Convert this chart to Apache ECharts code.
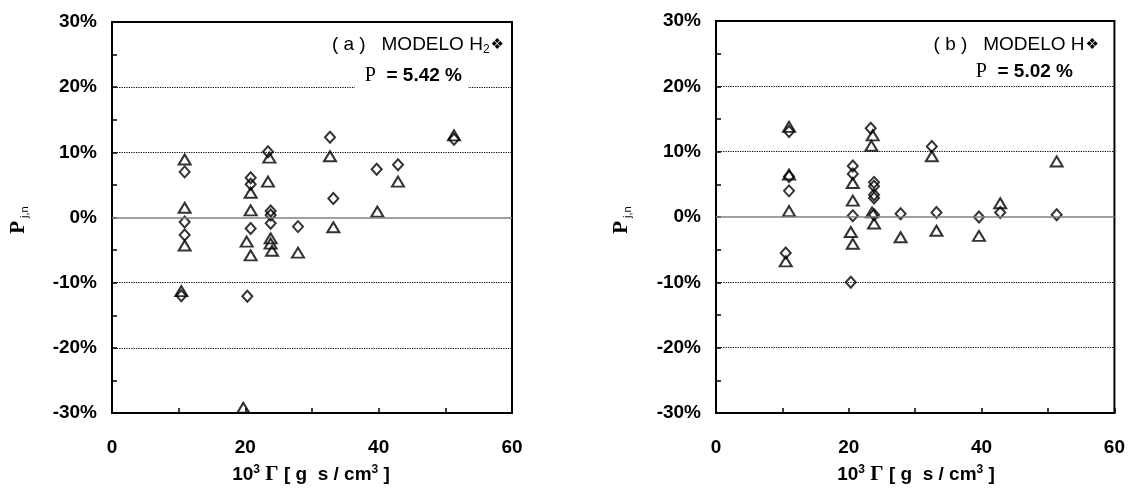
<!DOCTYPE html>
<html>
<head>
<meta charset="utf-8">
<script src="https://cdn.jsdelivr.net/npm/echarts@6/dist/echarts.min.js"></script>
<style>
html,body{margin:0;padding:0;background:#fff;}
#chart{width:1128px;height:493px;}
</style>
</head>
<body>
<div id="chart"></div>
<script>
// ---------- data (x = 10^3 Γ, y = P_j,n in %) ----------
const aDiamondX = [10.9, 10.9, 10.9, 10.4, 20.8, 20.8, 20.8, 20.3, 23.4, 23.8, 23.8, 23.8, 27.9, 32.7, 33.2, 39.7, 42.9, 51.3];
const aDiamondY = [7.0, -0.7, -2.7, -12.0, 6.1, 5.1, -1.7, -12.1, 10.1, 1.0, 0.4, -0.9, -1.4, 12.3, 2.9, 7.4, 8.1, 12.0];
const aTriangleX = [10.9, 10.9, 10.9, 10.4, 20.8, 20.8, 20.2, 20.8, 19.7, 23.6, 23.4, 23.8, 23.8, 24.0, 27.9, 32.7, 33.2, 39.8, 42.9, 51.3];
const aTriangleY = [8.9, 1.5, -4.3, -11.3, 3.8, 1.1, -3.7, -5.8, -29.2, 9.2, 5.5, -3.2, -4.0, -5.1, -5.4, 9.4, -1.5, 0.9, 5.5, 12.6];

const bDiamondX = [11.0, 11.0, 11.0, 10.5, 20.6, 20.6, 20.6, 20.3, 23.3, 23.8, 23.8, 23.8, 23.8, 23.8, 27.8, 32.5, 33.2, 39.6, 42.8, 51.3];
const bDiamondY = [13.1, 6.2, 4.0, -5.5, 7.8, 6.6, 0.2, -10.0, 13.6, 5.3, 4.7, 3.4, 2.9, 0.35, 0.5, 10.8, 0.7, 0.0, 0.7, 0.35];
const bTriangleX = [11.0, 11.0, 11.0, 10.5, 20.6, 20.6, 20.3, 20.6, 23.6, 23.4, 23.5, 23.8, 27.8, 32.5, 33.2, 39.6, 42.8, 51.3];
const bTriangleY = [13.8, 6.5, 0.9, -6.8, 5.2, 2.5, -2.3, -4.1, 12.5, 10.9, 0.7, -1.0, -3.1, 9.3, -2.1, -2.9, 2.1, 8.5];

const xTicks = [0, 20, 40, 60];
const yTicks = [-30, -20, -10, 0, 10, 20, 30];
const dottedLevels = [-20, -10, 10, 20];
const panelTitles = ['( a )   MODELO H', '( b )   MODELO H'];
const panelSub = ['2', ''];
const panelP = ['5.42 %', '5.02 %'];

// ---------- build ----------
const pair = (xs, ys) => xs.map((x, i) => [x, ys[i]]);
const sansB = 'Liberation Sans, Arial, sans-serif';

function xAxisFor(gi) {
  return {
    gridIndex: gi, type: 'value', min: xTicks[0], max: xTicks[xTicks.length - 1], interval: 20,
    axisLine: { show: true, onZero: false, lineStyle: { color: '#000', width: 2 } },
    axisTick: { show: true, inside: true, length: 5, lineStyle: { color: '#000', width: 1.5 } },
    minorTick: { show: true, splitNumber: 2, length: 5, lineStyle: { color: '#000', width: 1.5 } },
    axisLabel: { color: '#000', fontFamily: sansB, fontWeight: 'bold', fontSize: 19, margin: 25 },
    splitLine: { show: false }
  };
}
function yAxisFor(gi) {
  return {
    gridIndex: gi, type: 'value', min: yTicks[0], max: yTicks[yTicks.length - 1], interval: 10,
    axisLine: { show: true, onZero: false, lineStyle: { color: '#000', width: 2 } },
    axisTick: { show: true, inside: true, length: 5, lineStyle: { color: '#000', width: 1.5 } },
    minorTick: { show: true, splitNumber: 2, length: 5, lineStyle: { color: '#000', width: 1.5 } },
    axisLabel: { color: '#000', fontFamily: sansB, fontWeight: 'bold', fontSize: 19, margin: 15,
      formatter: v => v + '%' },
    splitLine: { show: false }
  };
}
const hollow = { color: 'rgba(255,255,255,0)', borderColor: '#000', borderWidth: 2 };

function refLines() {
  const d = dottedLevels.map(v => ({ yAxis: v, lineStyle: { type: [1.2, 1.2], color: '#000', width: 1 } }));
  d.push({ yAxis: 0, lineStyle: { type: 'solid', color: '#808080', width: 1.5 } });
  return { silent: true, symbol: 'none', label: { show: false }, animation: false, data: d };
}

function seriesFor(gi, dx, dy, tx, ty) {
  return [
    { type: 'scatter', xAxisIndex: gi, yAxisIndex: gi, symbol: 'diamond', symbolSize: [10, 11],
      itemStyle: hollow, data: pair(dx, dy), markLine: refLines(), z: 3 },
    { type: 'scatter', xAxisIndex: gi, yAxisIndex: gi, symbol: 'triangle', symbolSize: [12, 10],
      itemStyle: hollow, data: pair(tx, ty), z: 3 }
  ];
}

const grids = [
  { left: 112, top: 22, width: 400, height: 391 },
  { left: 716, top: 21, width: 401, height: 392 }
];

const richTitle = {
  t: { fontFamily: sansB, fontSize: 19, color: '#000' },
  s: { fontFamily: sansB, fontSize: 12, color: '#000', padding: [10, 0, 0, 0] },
  d: { fontFamily: 'DejaVu Sans', fontSize: 15, color: '#222', padding: [0, 0, 0, 1] }
};
const richP = {
  p: { fontFamily: 'Liberation Serif, Times New Roman, serif', fontSize: 20, color: '#000' },
  e: { fontFamily: sansB, fontSize: 19, fontWeight: 'bold', color: '#000' }
};
const richX = {
  n: { fontFamily: sansB, fontSize: 19, fontWeight: 'bold', color: '#000' },
  sup: { fontFamily: sansB, fontSize: 12, fontWeight: 'bold', color: '#000', padding: [0, 0, 10, 0] },
  g: { fontFamily: 'Liberation Serif, Times New Roman, serif', fontSize: 21, fontWeight: 'bold', color: '#000' }
};
const richY = {
  p: { fontFamily: 'Liberation Serif, Times New Roman, serif', fontSize: 21, fontWeight: 'bold', color: '#000' },
  s: { fontFamily: sansB, fontSize: 11, color: '#000', padding: [11, 0, 0, 3] }
};

const graphic = [];
const titleRight = [504, 1099];
const pRight = [468, 1079];
const pY = [77, 73];
const xTitleCx = [311, 916];
const yNameX = [19, 622];
for (let i = 0; i < 2; i++) {
  const sub = panelSub[i] ? '{s|' + panelSub[i] + '}' : '';
  graphic.push({
    type: 'text', z: 100, x: titleRight[i], y: 45,
    style: { text: '{t|' + panelTitles[i] + '}' + sub + '{d|❖}', rich: richTitle, align: 'right', verticalAlign: 'middle' }
  });
  graphic.push({
    type: 'text', z: 100, x: pRight[i], y: pY[i],
    style: { text: '{p|P}{e|  = ' + panelP[i] + '}', rich: richP, align: 'right', verticalAlign: 'middle',
      backgroundColor: '#fff', padding: [1, 6, 3, 10] }
  });
  graphic.push({
    type: 'text', z: 100, x: xTitleCx[i], y: 475,
    style: { text: '{n|10}{sup|3}{g| Γ}{n| [ g  s / cm}{sup|3}{n| ]}', rich: richX, align: 'center', verticalAlign: 'middle' }
  });
  graphic.push({
    type: 'text', z: 100, x: yNameX[i], y: 220, rotation: Math.PI / 2,
    style: { text: '{p|P}{s|j,n}', rich: richY, align: 'center', verticalAlign: 'middle' }
  });
}

const option = {
  animation: false,
  backgroundColor: '#fff',
  grid: grids.map(g => Object.assign({ show: true, borderColor: '#000', borderWidth: 2, backgroundColor: 'transparent' }, g)),
  xAxis: [xAxisFor(0), xAxisFor(1)],
  yAxis: [yAxisFor(0), yAxisFor(1)],
  series: [
    ...seriesFor(0, aDiamondX, aDiamondY, aTriangleX, aTriangleY),
    ...seriesFor(1, bDiamondX, bDiamondY, bTriangleX, bTriangleY)
  ],
  graphic: graphic
};

const chart = echarts.init(document.getElementById('chart'), null, { renderer: 'canvas' });
chart.setOption(option);
</script>
</body>
</html>
